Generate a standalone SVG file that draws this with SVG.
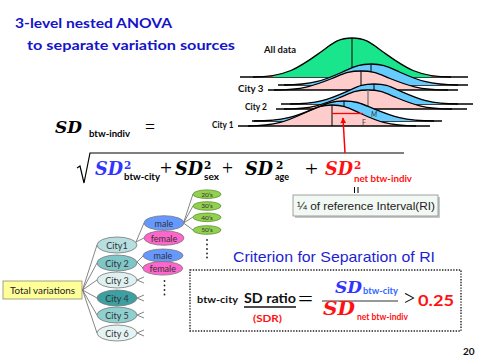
<svg xmlns="http://www.w3.org/2000/svg" width="480" height="360" viewBox="0 0 480 360">
<defs>
<style>
.ttl{font-family:Lato,"Liberation Sans",sans-serif;font-weight:700;font-size:14px;fill:#1414c8}
.sd{font-family:"DejaVu Serif",serif;font-style:italic;font-weight:700}
.op{font-family:"Liberation Serif",serif}
.sub{font-family:Lato,"Liberation Sans",sans-serif;font-weight:700;font-size:8.5px}
.sup{font-family:"DejaVu Serif",serif;font-weight:700;font-size:10.5px}
.cl{font-family:Lato,"Liberation Sans",sans-serif;font-weight:700;font-size:9px;fill:#111}
.edge{fill:none;stroke:#000;stroke-width:1.3}
.base{stroke:#000;stroke-width:1.3}
.tail{fill:#cc3300}
.grn{fill:#19e68c}
.blu{fill:#66ccff}
.pnk{fill:#ffcccc}
.vl{stroke:#000;stroke-width:1}
.nd text{font-family:Lato,"Liberation Sans",sans-serif;font-size:9px;fill:#333;text-anchor:middle}
.nd ellipse{stroke:#777;stroke-width:0.8}
.age ellipse{fill:#92d050;stroke:#5e8f2f;stroke-width:0.8}
.age text{font-size:6.5px}
.conn line{stroke:#666;stroke-width:0.8}
.dot{fill:#222}
</style>
<clipPath id="mid" clipPathUnits="objectBoundingBox"><rect x="0.1" y="-0.2" width="0.8" height="1.4"/></clipPath>
<marker id="ah" viewBox="0 0 10 10" refX="9" refY="5" markerWidth="4" markerHeight="4" orient="auto"><path d="M0,0 L10,5 L0,10 z" fill="#ff0000"/></marker>
<path id="gAll" d="M253,77 C286,77 299.2,67.5 319,53.3 C332.2,43.9 337.2,38 352,38 C366.8,38 371.8,43.9 385,53.3 C404.8,67.5 418,77 451,77"/>
<path id="c3m" d="M284,85 C313,85 324.6,79.9 342,72.25 C353.6,67.15 357.95,64 371,64 C384.05,64 388.4,67.15 400,72.25 C417.4,79.9 429,85 458,85"/>
<path id="c3f" d="M274,90 C303,90 314.6,85.4 332,78.5 C343.6,73.85 347.95,71 361,71 C374.05,71 378.4,73.85 390,78.5 C407.4,85.4 419,90 448,90"/>
<path id="c2m" d="M290,104 C318,104 329.2,99.14 346,91.86 C357.2,87 361.4,84 374,84 C386.6,84 390.8,87 402,91.86 C418.8,99.14 430,104 458,104"/>
<path id="c2f" d="M284,109 C312,109 323.2,104.38 340,97.47 C351.2,92.85 355.4,90 368,90 C380.6,90 384.8,92.85 396,97.47 C412.8,104.38 424,109 452,109"/>
<path id="c1m" d="M254,121 C284,121 296,116.14 314,108.86 C326,104 330.5,101 344,101 C357.5,101 362,104 374,108.86 C392,116.14 404,121 434,121"/>
<path id="c1f" d="M248,126 C276,126 287.2,120.9 304,113.25 C315.2,108.15 319.4,105 332,105 C344.6,105 348.8,108.15 360,113.25 C376.8,120.9 388,126 416,126"/>
</defs>

<rect width="480" height="360" fill="#ffffff"/>

<!-- Title -->
<text class="ttl" x="15" y="28" textLength="157" lengthAdjust="spacingAndGlyphs">3-level nested ANOVA</text>
<text class="ttl" x="27" y="50" textLength="208" lengthAdjust="spacingAndGlyphs">to separate variation sources</text>

<!-- Distribution curves -->
<g id="curves">
  <g id="alldata">
    <line class="base" x1="240" y1="77" x2="468" y2="77"/>
    <use href="#gAll" class="tail"/>
    <use href="#gAll" class="grn" clip-path="url(#mid)"/>
    <line class="vl" x1="352" y1="38" x2="352" y2="77"/>
    <use href="#gAll" class="edge"/>
  </g>
  <g id="city3curves">
    <line class="base" x1="278" y1="85" x2="468" y2="85"/>
    <use href="#c3m" class="tail"/>
    <use href="#c3m" class="blu" clip-path="url(#mid)"/>
    <line class="vl" x1="371" y1="64" x2="371" y2="85"/>
    <use href="#c3f" class="tail"/>
    <use href="#c3f" class="pnk" clip-path="url(#mid)"/>
    <use href="#c3f" class="edge"/>
    <line class="base" x1="268" y1="90" x2="458" y2="90"/>
    <line class="vl" x1="361" y1="71" x2="361" y2="90"/>
    <use href="#c3m" class="edge"/>
  </g>
  <g id="city2curves">
    <line class="base" x1="281" y1="104" x2="473" y2="104"/>
    <use href="#c2m" class="tail"/>
    <use href="#c2m" class="blu" clip-path="url(#mid)"/>
    <line class="vl" x1="374" y1="84" x2="374" y2="104"/>
    <use href="#c2f" class="tail"/>
    <use href="#c2f" class="pnk" clip-path="url(#mid)"/>
    <use href="#c2f" class="edge"/>
    <line class="base" x1="276" y1="109" x2="467" y2="109"/>
    <line x1="368" y1="90" x2="368" y2="109" stroke="#777" stroke-width="1.3"/>
    <use href="#c2m" class="edge"/>
  </g>
  <g id="city1curves">
    <line class="base" x1="252" y1="121" x2="442" y2="121"/>
    <use href="#c1m" class="tail"/>
    <use href="#c1m" class="blu" clip-path="url(#mid)"/>
    <line class="vl" x1="344" y1="101" x2="344" y2="121"/>
    <use href="#c1f" class="tail"/>
    <use href="#c1f" class="pnk" clip-path="url(#mid)"/>
    <use href="#c1f" class="edge"/>
    <line class="base" x1="238" y1="126" x2="430" y2="126"/>
    <line class="vl" x1="332" y1="105" x2="332" y2="126"/>
    <use href="#c1m" class="edge"/>
    <line x1="332" y1="113.5" x2="363" y2="113.5" stroke="#ff0000" stroke-width="1.3"/>
    <text x="371" y="117" font-family="Lato,sans-serif" font-style="italic" font-size="7" fill="#333">M</text>
    <text x="362" y="125" font-family="Lato,sans-serif" font-size="7" fill="#333">F</text>
  </g>
  <text class="cl" x="264" y="52.5" textLength="32" lengthAdjust="spacingAndGlyphs">All data</text>
  <text class="cl" x="238" y="91.5" textLength="25.5" lengthAdjust="spacingAndGlyphs">City 3</text>
  <text class="cl" x="245" y="109.5" textLength="22" lengthAdjust="spacingAndGlyphs">City 2</text>
  <text class="cl" x="212" y="128" textLength="21.5" lengthAdjust="spacingAndGlyphs">City 1</text>
</g>

<!-- Formula -->
<g id="formula">
  <text class="sd" x="55" y="133" font-size="17" textLength="27" lengthAdjust="spacingAndGlyphs">SD</text>
  <text class="sub" x="89" y="137" textLength="41" lengthAdjust="spacingAndGlyphs">btw-indiv</text>
  <text class="op" x="145" y="132.5" font-size="18" textLength="10" lengthAdjust="spacingAndGlyphs">=</text>

  <path d="M77,168 L80,166 L84,183 L90,153 L404,153" fill="none" stroke="#000" stroke-width="1.2"/>

  <text class="sd" x="95" y="175" font-size="18" fill="#3333ff" textLength="28" lengthAdjust="spacingAndGlyphs">SD</text>
  <text class="sup" x="124" y="169" fill="#3333ff">2</text>
  <text class="sub" x="124" y="180" textLength="36" lengthAdjust="spacingAndGlyphs">btw-city</text>
  <text class="op" x="160" y="175" font-size="20" textLength="12" lengthAdjust="spacingAndGlyphs">+</text>
  <text class="sd" x="175" y="175" font-size="18" textLength="28" lengthAdjust="spacingAndGlyphs">SD</text>
  <text class="sup" x="204" y="169">2</text>
  <text class="sub" x="204" y="180" textLength="15" lengthAdjust="spacingAndGlyphs">sex</text>
  <text class="op" x="222" y="175" font-size="20" textLength="11" lengthAdjust="spacingAndGlyphs">+</text>
  <text class="sd" x="245" y="175" font-size="18" textLength="28" lengthAdjust="spacingAndGlyphs">SD</text>
  <text class="sup" x="276" y="169">2</text>
  <text class="sub" x="275" y="180" textLength="14" lengthAdjust="spacingAndGlyphs">age</text>
  <text class="op" x="305" y="176" font-size="20" textLength="13" lengthAdjust="spacingAndGlyphs">+</text>
  <text class="sd" x="325" y="175" font-size="18" fill="#ff1111" textLength="28" lengthAdjust="spacingAndGlyphs">SD</text>
  <text class="sup" x="354" y="169" fill="#ff1111">2</text>
  <text class="sub" x="354" y="182" fill="#ff1111" textLength="58" lengthAdjust="spacingAndGlyphs">net btw-indiv</text>

  <line x1="345" y1="153" x2="343" y2="118" stroke="#ff0000" stroke-width="1.5" marker-end="url(#ah)"/>

  <line x1="354.5" y1="187" x2="354.5" y2="193" stroke="#000" stroke-width="1"/>
  <line x1="358" y1="187" x2="358" y2="193" stroke="#000" stroke-width="1"/>
</g>

<g id="riBox">
  <rect x="295" y="197" width="145" height="21" fill="#c8c8c8"/>
  <rect x="293" y="195" width="145" height="21" fill="#f2f8f4" stroke="#8a8a8a" stroke-width="0.8"/>
  <text x="297" y="210" font-family="'Liberation Sans',Arial,sans-serif" font-size="11" fill="#222" textLength="138" lengthAdjust="spacingAndGlyphs">¼ of reference Interval(RI)</text>
</g>

<!-- Tree connectors -->
<g id="connectors" class="conn">
  <line x1="82.5" y1="290" x2="97" y2="245"/>
  <line x1="82.5" y1="290" x2="97" y2="263"/>
  <line x1="82.5" y1="290" x2="97" y2="280"/>
  <line x1="82.5" y1="290" x2="97" y2="298"/>
  <line x1="82.5" y1="290" x2="97" y2="315"/>
  <line x1="82.5" y1="290" x2="97" y2="333"/>
  <line x1="136" y1="242" x2="144" y2="223"/>
  <line x1="136" y1="242" x2="144" y2="238"/>
  <line x1="137" y1="262" x2="143" y2="256"/>
  <line x1="137" y1="262" x2="143" y2="268"/>
  <line x1="137" y1="280" x2="144" y2="277"/>
  <line x1="137" y1="280" x2="144" y2="283"/>
  <line x1="137" y1="298" x2="144" y2="295"/>
  <line x1="137" y1="298" x2="144" y2="301"/>
  <line x1="137" y1="315" x2="144" y2="312"/>
  <line x1="137" y1="315" x2="144" y2="318"/>
  <line x1="137" y1="333" x2="144" y2="330"/>
  <line x1="137" y1="333" x2="144" y2="336"/>
  <line x1="183.5" y1="223" x2="193" y2="194"/>
  <line x1="183.5" y1="223" x2="193" y2="206"/>
  <line x1="183.5" y1="223" x2="193" y2="217"/>
  <line x1="183.5" y1="223" x2="193" y2="230"/>
</g>

<!-- Tree nodes -->
<g id="total">
  <rect x="3" y="281" width="79" height="18" fill="#ffff99" stroke="#8c8c6c" stroke-width="0.8"/>
  <text x="10" y="293.5" font-family="Lato,'Liberation Sans',sans-serif" font-size="10" fill="#222" textLength="65" lengthAdjust="spacingAndGlyphs">Total variations</text>
</g>
<g id="city1" class="nd"><ellipse cx="117" cy="245" rx="20" ry="8" fill="#b7dfe0"/><text x="117" y="248.5">City1</text></g>
<g id="city2" class="nd"><ellipse cx="117" cy="263" rx="20" ry="8" fill="#7fc6c8"/><text x="117" y="266.5">City 2</text></g>
<g id="city3" class="nd"><ellipse cx="117" cy="280" rx="20" ry="8" fill="#def0f0"/><text x="117" y="283.5">City 3</text></g>
<g id="city4" class="nd"><ellipse cx="117" cy="298" rx="20" ry="8" fill="#3ca0a2"/><text x="117" y="301.5">City 4</text></g>
<g id="city5" class="nd"><ellipse cx="117" cy="315" rx="20" ry="8" fill="#8fcfd0"/><text x="117" y="318.5">City 5</text></g>
<g id="city6" class="nd"><ellipse cx="117" cy="333" rx="20" ry="8" fill="#e6f3f3"/><text x="117" y="336.5">City 6</text></g>
<g id="male1" class="nd"><ellipse cx="164" cy="223" rx="20" ry="7.3" fill="#6699ff"/><text x="164" y="226.5">male</text></g>
<g id="female1" class="nd"><ellipse cx="164" cy="238" rx="20" ry="7.3" fill="#ff66cc"/><text x="164" y="241.5">female</text></g>
<g id="male2" class="nd"><ellipse cx="163" cy="255.5" rx="20" ry="6.5" fill="#6699ff"/><text x="163" y="259">male</text></g>
<g id="female2" class="nd"><ellipse cx="162.7" cy="268.3" rx="20" ry="6.8" fill="#ff66cc"/><text x="162.7" y="271.8">female</text></g>
<g id="age20" class="nd age"><ellipse cx="207" cy="194.2" rx="14" ry="4.3"/><text x="207" y="196.6">20’s</text></g>
<g id="age30" class="nd age"><ellipse cx="207" cy="206" rx="14" ry="4.3"/><text x="207" y="208.4">30’s</text></g>
<g id="age40" class="nd age"><ellipse cx="207" cy="217.3" rx="14" ry="4.3"/><text x="207" y="219.7">40’s</text></g>
<g id="age50" class="nd age"><ellipse cx="207" cy="230" rx="14" ry="4.3"/><text x="207" y="232.4">50’s</text></g>
<g id="dots">
  <circle class="dot" cx="207" cy="240" r="0.9"/><circle class="dot" cx="207" cy="244.5" r="0.9"/><circle class="dot" cx="207" cy="249" r="0.9"/><circle class="dot" cx="207" cy="253.5" r="0.9"/><circle class="dot" cx="207" cy="257.5" r="0.9"/>
  <circle class="dot" cx="164.5" cy="281" r="0.9"/><circle class="dot" cx="164.5" cy="285.5" r="0.9"/><circle class="dot" cx="164.5" cy="290" r="0.9"/><circle class="dot" cx="164.5" cy="294.5" r="0.9"/>
</g>

<!-- Criterion -->
<text x="233" y="262" font-family="'Liberation Sans',Arial,sans-serif" font-size="15" fill="#1f1fd1" textLength="202" lengthAdjust="spacingAndGlyphs">Criterion for Separation of RI</text>

<g id="sdr">
  <rect x="190" y="270" width="271" height="61" fill="none" stroke="#222" stroke-width="1.4" stroke-dasharray="1.4 1.4"/>
  <text x="197" y="303" font-family="Lato,sans-serif" font-weight="700" font-size="10" fill="#111" textLength="41" lengthAdjust="spacingAndGlyphs">btw-city</text>
  <text x="244" y="303" font-family="Lato,sans-serif" font-weight="700" font-size="13" fill="#111" textLength="52" lengthAdjust="spacingAndGlyphs">SD ratio</text>
  <line x1="244" y1="307" x2="296" y2="307" stroke="#111" stroke-width="1.3"/>
  <text x="253" y="322" font-family="Lato,sans-serif" font-weight="700" font-size="9" fill="#ff1111" textLength="29" lengthAdjust="spacingAndGlyphs">(SDR)</text>
  <text class="op" x="298" y="305.5" font-size="22" textLength="15" lengthAdjust="spacingAndGlyphs">=</text>
  <line x1="322" y1="301" x2="398" y2="301" stroke="#333" stroke-width="1"/>
  <text class="sd" x="335" y="293" font-size="16" fill="#3333ff" textLength="27" lengthAdjust="spacingAndGlyphs">SD</text>
  <text class="sub" x="363" y="294" font-size="8" fill="#3366ff" textLength="35" lengthAdjust="spacingAndGlyphs">btw-city</text>
  <text class="sd" x="323" y="315" font-size="18" fill="#ff1111" textLength="32" lengthAdjust="spacingAndGlyphs">SD</text>
  <text class="sub" x="357" y="320" font-size="8" fill="#ff1111" textLength="51" lengthAdjust="spacingAndGlyphs">net btw-indiv</text>
  <text class="op" x="404" y="305" font-size="20" textLength="11" lengthAdjust="spacingAndGlyphs">&gt;</text>
  <text x="418" y="306" font-family="Lato,sans-serif" font-weight="700" font-size="16" fill="#ff1111" textLength="36" lengthAdjust="spacingAndGlyphs">0.25</text>
</g>

<text x="463" y="355" font-family="Lato,sans-serif" font-weight="700" font-size="10" fill="#111">20</text>
</svg>
